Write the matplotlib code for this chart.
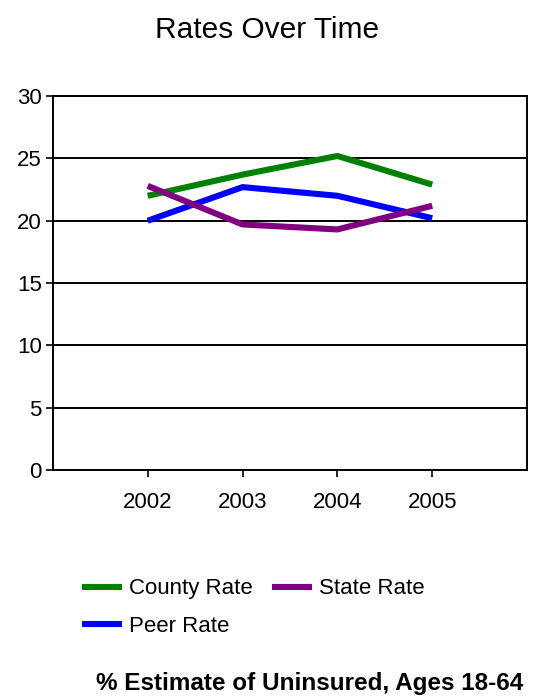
import matplotlib
matplotlib.use("Agg")
import matplotlib.pyplot as plt

years = ["2002", "2003", "2004", "2005"]
county_rate = [22.0, 23.7, 25.2, 22.9]
peer_rate = [20.0, 22.7, 22.0, 20.2]
state_rate = [22.8, 19.7, 19.3, 21.2]
yticks = [0, 5, 10, 15, 20, 25, 30]

fam = ['Liberation Sans', 'DejaVu Sans']

fig = plt.figure(figsize=(5.34, 6.97), dpi=100)
ax = fig.add_axes([0.099, 0.326, 0.888, 0.536])

x = list(range(len(years)))
l1, = ax.plot(x, county_rate, color='#008000', lw=4.4, label='County Rate', solid_capstyle='butt')
l2, = ax.plot(x, peer_rate, color='#0000ff', lw=4.4, label='Peer Rate', solid_capstyle='butt')
l3, = ax.plot(x, state_rate, color='#800080', lw=4.4, label='State Rate', solid_capstyle='butt')

ax.set_xlim(-1, len(years))
ax.set_ylim(0, 30)
ax.set_xticks(x)
ax.set_xticklabels(years, family=fam, fontsize=16)
ax.set_yticks(yticks)
ax.set_yticklabels([str(v) for v in yticks], family=fam, fontsize=16)
ax.yaxis.grid(True, color='black', lw=1.4)
ax.set_axisbelow(True)
for s in ax.spines.values():
    s.set_color('black')
    s.set_linewidth(1.4)
ax.tick_params(axis='both', direction='out', length=5, width=1.2, colors='black')
ax.tick_params(axis='x', pad=11)
ax.tick_params(axis='y', pad=3)

fig.text(0.5, 0.957, 'Rates Over Time', ha='center', va='center', family=fam, fontsize=21.5)

leg = fig.legend(handles=[l1, l2, l3], loc='upper left', bbox_to_anchor=(0.137, 0.183),
                 ncol=2, frameon=False, prop={'family': fam, 'size': 16},
                 handlelength=1.8, handletextpad=0.3, columnspacing=0.9,
                 labelspacing=0.75, borderaxespad=0)

fig.text(0.579, 0.02, '% Estimate of Uninsured, Ages 18-64', ha='center', va='center',
         family=fam, fontweight='bold', fontsize=17.5)

fig.savefig('out.png', dpi=100, facecolor='white')
